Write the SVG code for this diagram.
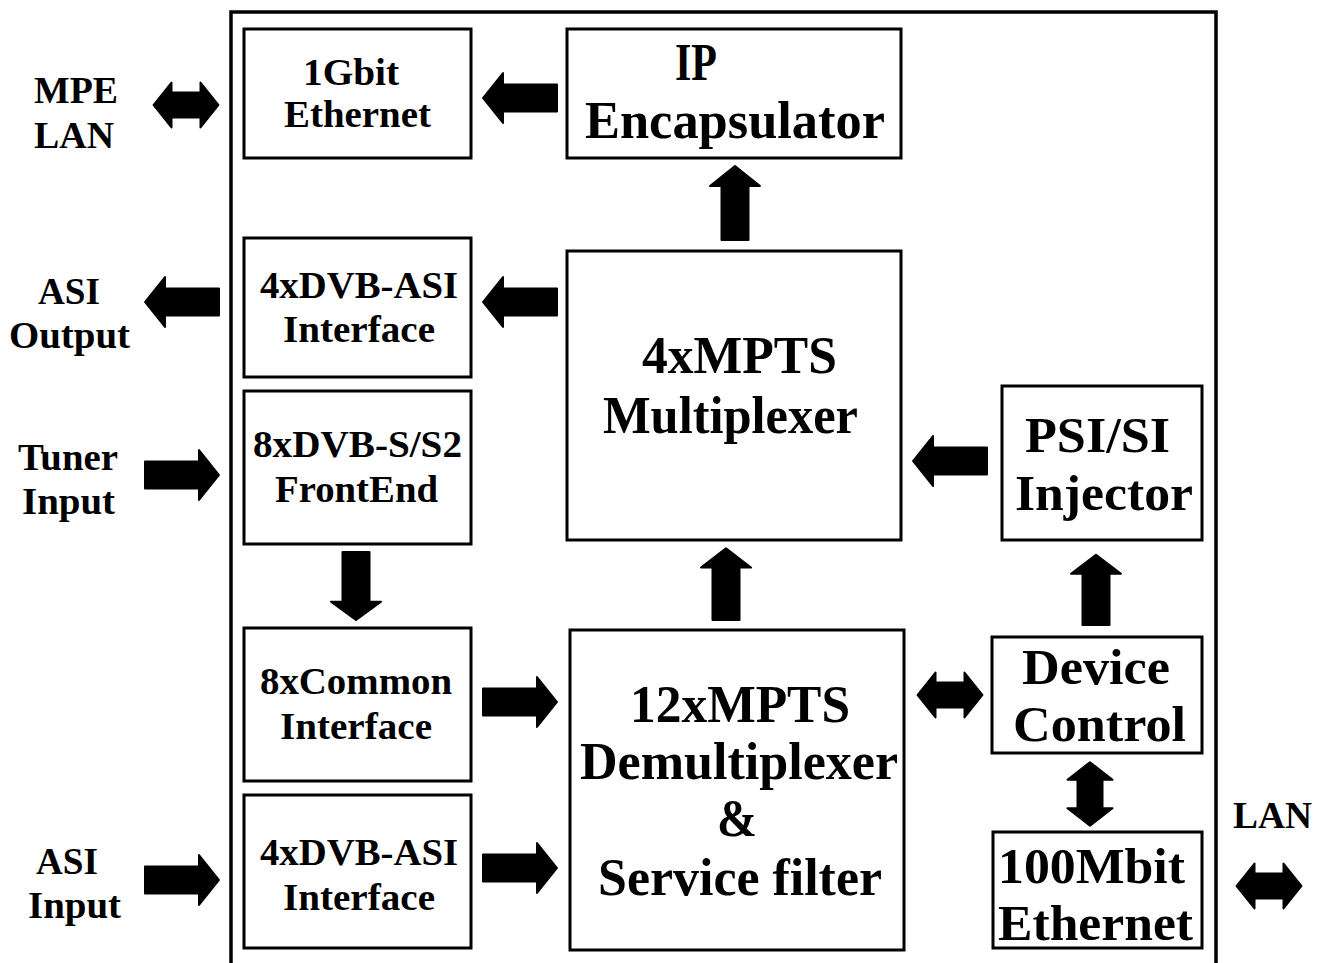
<svg xmlns="http://www.w3.org/2000/svg" width="1322" height="963" viewBox="0 0 1322 963">
<style>
.box{fill:#fff;stroke:#000;stroke-width:3}
.frame{fill:none;stroke:#000;stroke-width:3.5}
.arr{fill:#000;stroke:#000;stroke-width:2;stroke-linejoin:round}
text{font-family:"Liberation Serif","Times New Roman",serif;font-weight:bold;fill:#000}
.s{font-size:38px}
.m{font-size:37px}
.l{font-size:50px}
.xl{font-size:53px}
</style>
<defs>
<path id="a1" class="arr" d="M0,-13.5 L54,-13.5 L54,-25 L74,0 L54,25 L54,13.5 L0,13.5 Z"/>
<path id="a2" class="arr" d="M-32.5,0 L-14.5,-22.5 L-14.5,-12.5 L14.5,-12.5 L14.5,-22.5 L32.5,0 L14.5,22.5 L14.5,12.5 L-14.5,12.5 L-14.5,22.5 Z"/>
</defs>
<rect class="frame" x="231" y="12" width="985" height="980"/>
<g id="ethernet1g"><rect class="box" x="244" y="29" width="227" height="129"/>
<text class="m" x="303" y="85" textLength="96" lengthAdjust="spacingAndGlyphs">1Gbit</text>
<text class="m" x="284" y="127" textLength="147" lengthAdjust="spacingAndGlyphs">Ethernet</text></g>
<g id="ipencap"><rect class="box" x="567" y="29" width="334" height="129"/>
<text class="xl" x="675" y="80" textLength="42" lengthAdjust="spacingAndGlyphs">IP</text>
<text class="xl" x="585" y="138" textLength="300" lengthAdjust="spacingAndGlyphs">Encapsulator</text></g>
<g id="asiout"><rect class="box" x="244" y="238" width="227" height="139"/>
<text class="m" x="260" y="298" textLength="198" lengthAdjust="spacingAndGlyphs">4xDVB-ASI</text>
<text class="m" x="283" y="342" textLength="152" lengthAdjust="spacingAndGlyphs">Interface</text></g>
<g id="mux"><rect class="box" x="567" y="251" width="334" height="289"/>
<text class="xl" x="642" y="373" textLength="195" lengthAdjust="spacingAndGlyphs">4xMPTS</text>
<text class="xl" x="603" y="433" textLength="255" lengthAdjust="spacingAndGlyphs">Multiplexer</text></g>
<g id="frontend"><rect class="box" x="244" y="391" width="227" height="153"/>
<text class="m" x="253" y="457" textLength="209" lengthAdjust="spacingAndGlyphs">8xDVB-S/S2</text>
<text class="m" x="275" y="502" textLength="163" lengthAdjust="spacingAndGlyphs">FrontEnd</text></g>
<g id="psisi"><rect class="box" x="1002" y="386" width="200" height="154"/>
<text class="l" x="1025" y="452" textLength="145" lengthAdjust="spacingAndGlyphs">PSI/SI</text>
<text class="l" x="1015" y="510" textLength="178" lengthAdjust="spacingAndGlyphs">Injector</text></g>
<g id="common"><rect class="box" x="244" y="628" width="227" height="153"/>
<text class="m" x="260" y="694" textLength="192" lengthAdjust="spacingAndGlyphs">8xCommon</text>
<text class="m" x="280" y="739" textLength="152" lengthAdjust="spacingAndGlyphs">Interface</text></g>
<g id="demux"><rect class="box" x="570" y="630" width="334" height="320"/>
<text class="xl" x="630" y="722" textLength="220" lengthAdjust="spacingAndGlyphs">12xMPTS</text>
<text class="xl" x="580" y="779" textLength="318" lengthAdjust="spacingAndGlyphs">Demultiplexer</text>
<text class="xl" x="717" y="836" textLength="40" lengthAdjust="spacingAndGlyphs">&amp;</text>
<text class="xl" x="598" y="895" textLength="284" lengthAdjust="spacingAndGlyphs">Service filter</text></g>
<g id="devctrl"><rect class="box" x="992" y="637" width="210" height="116"/>
<text class="l" x="1022" y="684" textLength="148" lengthAdjust="spacingAndGlyphs">Device</text>
<text class="l" x="1013" y="741" textLength="173" lengthAdjust="spacingAndGlyphs">Control</text></g>
<g id="asiin"><rect class="box" x="244" y="795" width="227" height="153"/>
<text class="m" x="260" y="865" textLength="198" lengthAdjust="spacingAndGlyphs">4xDVB-ASI</text>
<text class="m" x="283" y="910" textLength="152" lengthAdjust="spacingAndGlyphs">Interface</text></g>
<g id="ethernet100m"><rect class="box" x="993" y="832" width="209" height="116"/>
<text class="l" x="998" y="883" textLength="187" lengthAdjust="spacingAndGlyphs">100Mbit</text>
<text class="l" x="998" y="940" textLength="195" lengthAdjust="spacingAndGlyphs">Ethernet</text></g>
<g id="labels">
<text class="s" x="34" y="103" textLength="84" lengthAdjust="spacingAndGlyphs">MPE</text>
<text class="s" x="34" y="148" textLength="80" lengthAdjust="spacingAndGlyphs">LAN</text>
<text class="s" x="38" y="304" textLength="62" lengthAdjust="spacingAndGlyphs">ASI</text>
<text class="s" x="9" y="348" textLength="121" lengthAdjust="spacingAndGlyphs">Output</text>
<text class="s" x="18" y="470" textLength="100" lengthAdjust="spacingAndGlyphs">Tuner</text>
<text class="s" x="22" y="514" textLength="93" lengthAdjust="spacingAndGlyphs">Input</text>
<text class="s" x="36" y="874" textLength="62" lengthAdjust="spacingAndGlyphs">ASI</text>
<text class="s" x="28" y="918" textLength="93" lengthAdjust="spacingAndGlyphs">Input</text>
<text class="s" x="1233" y="828" textLength="79" lengthAdjust="spacingAndGlyphs">LAN</text>
</g>
<g id="connectors">
<use href="#a1" transform="translate(557,98) rotate(180)"/>
<use href="#a1" transform="translate(735,240) rotate(-90)"/>
<use href="#a1" transform="translate(557,302) rotate(180)"/>
<use href="#a1" transform="translate(219,302) rotate(180)"/>
<use href="#a1" transform="translate(145,475)"/>
<use href="#a1" transform="translate(356,552) rotate(90) scale(0.92,1)"/>
<use href="#a1" transform="translate(987,461) rotate(180)"/>
<use href="#a1" transform="translate(726,620) rotate(-90) scale(0.97,1)"/>
<use href="#a1" transform="translate(1096,625) rotate(-90) scale(0.95,1)"/>
<use href="#a1" transform="translate(483,702)"/>
<use href="#a1" transform="translate(483,868)"/>
<use href="#a1" transform="translate(145,880)"/>
<use href="#a2" transform="translate(186,105)"/>
<use href="#a2" transform="translate(950,695)"/>
<use href="#a2" transform="translate(1090,794) rotate(90) scale(0.98,1)"/>
<use href="#a2" transform="translate(1269,886)"/>
</g>
</svg>
